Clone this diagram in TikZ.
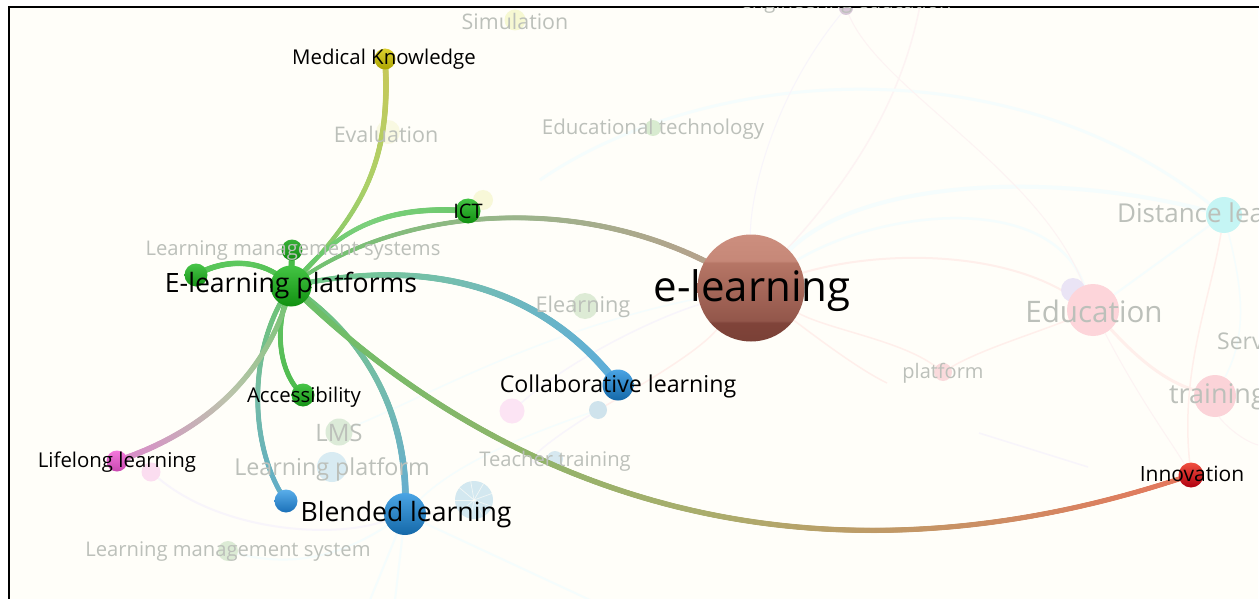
\documentclass[tikz,border=0pt]{standalone}
\usepackage{fontspec}
\setmainfont{Open Sans}
\usetikzlibrary{decorations.markings}
\pgfdeclarelayer{faintedge}
\pgfdeclarelayer{faintnode}
\pgfdeclarelayer{strongedge}
\pgfsetlayers{faintedge,faintnode,strongedge,main}
\definecolor{paper}{HTML}{FFFEF9}
\definecolor{fainttxt}{HTML}{BCC0BA}
\definecolor{bA}{HTML}{7A4036}
\definecolor{bB}{HTML}{80443A}
\definecolor{bC}{HTML}{92564A}
\definecolor{bD}{HTML}{B67666}
\definecolor{bE}{HTML}{C68878}
\definecolor{bF}{HTML}{CC8E7E}
\pgfdeclareverticalshading{brownball}{100bp}{
 color(0bp)=(bA);
 color(25bp)=(bA);
 color(34bp)=(bB);
 color(34.5bp)=(bC);
 color(62bp)=(bD);
 color(62.5bp)=(bE);
 color(75bp)=(bF);
 color(100bp)=(bF)}
\tikzset{
 ball/.style n args={3}{circle,inner sep=0pt,minimum size=#1,draw=none,
   /utils/exec={\definecolor{ballT}{HTML}{#2}\definecolor{ballB}{HTML}{#3}},
   top color=ballT,bottom color=ballB},
 pale/.style n args={2}{circle,inner sep=0pt,minimum size=#1,draw=none,
   /utils/exec={\definecolor{paleC}{HTML}{#2}},fill=paleC},
 lab/.style={font=\fontsize{20.4}{20.4}\selectfont,text=black,inner sep=0pt},
 labbig/.style={font=\fontsize{26.6}{26.6}\selectfont,text=black,inner sep=0pt},
 faintlab/.style={font=\fontsize{20.2}{20.2}\selectfont,text=fainttxt,inner sep=0pt},
 grad/.style n args={5}{
  decoration={markings,mark=between positions 0 and 1 step 1pt with {
   \definecolor{gcA}{HTML}{#1}\definecolor{gcM}{HTML}{#2}\definecolor{gcB}{HTML}{#3}%
   \pgfmathsetmacro\gpos{\pgfkeysvalueof{/pgf/decoration/mark info/distance from start}/\pgfdecoratedpathlength*100}%
   \pgfmathsetmacro\gwid{(#4+(#5-#4)*\gpos/100)/2}%
   \ifdim\gpos pt<50pt
     \pgfmathsetmacro\gmix{\gpos*2}%
     \fill[color=gcM!\gmix!gcA] (0,0) circle[radius=\gwid pt];
   \else
     \pgfmathsetmacro\gmix{(\gpos-50)*2}%
     \fill[color=gcB!\gmix!gcM] (0,0) circle[radius=\gwid pt];
   \fi
  }},
  postaction={decorate}},
}
\definecolor{fp}{HTML}{FDF3F3}
\definecolor{fr}{HTML}{FFEFEB}
\definecolor{fc}{HTML}{F5FDFD}
\definecolor{fl}{HTML}{F8F5FB}
\begin{document}
\begin{tikzpicture}[x=1pt,y=-1pt]
\useasboundingbox (0,0) rectangle (1259,599);
\begin{pgfonlayer}{faintedge}
\fill[white] (0,0) rectangle (1259,599);
\fill[paper] (9,8) rectangle (1258,599);
\end{pgfonlayer}
\draw[black,line width=2] (8.5,599) -- (8.5,7) -- (1259,7);

% --- strong nodes
\node[circle,inner sep=0pt,minimum size=107,draw=none,shading=brownball] (el) at (751,288) {};
\node[ball={41}{44C444}{109010}] (ep) at (291,286) {};
\node[ball={21}{DCD030}{ACA400}] (mk) at (385,59) {};
\node[ball={25}{44C444}{109010}] (ict) at (468,211) {};
\node[ball={21}{38B038}{108C10}] (lms) at (292,250) {};
\node[ball={23}{48C448}{169416}] (lft) at (196,275) {};
\node[ball={23}{48C448}{169416}] (acc) at (303,395) {};
\node[ball={21}{F478DC}{C848B0}] (ll) at (117,461) {};
\node[ball={23}{5AAEEA}{1A70B8}] (ub) at (286,501) {};
\node[ball={42}{4AA4E4}{1468A8}] (bl) at (405,514) {};
\node[ball={31}{4AA4E4}{1468A8}] (cl) at (618,385) {};
\node[ball={25}{F05040}{B00010}] (in) at (1191,475) {};

% --- pale nodes
\begin{pgfonlayer}{faintnode}
\begin{scope}
\clip (9,8) rectangle (1258,599);
\node[pale={21}{F6F8D2}] (nsim) at (515,20) {};
\node[pale={24}{F9F9E2}] (neva) at (388,132) {};
\node[pale={20}{F8F8D8}] (nict) at (483,200) {};
\node[pale={16}{D8EBD0}] (nedt) at (653,128) {};
\node[pale={26}{DDEBD5}] (nelr) at (585,306) {};
\node[pale={27}{DCEBD8}] (nlms) at (339,432) {};
\node[pale={30}{D8EBF2}] (nlpf) at (332,467) {};
\node[pale={16}{D6E8F0}] (ntea) at (555,459) {};
\node[pale={20}{DCEBD5}] (nlmt) at (228,551) {};
\node[pale={24}{EAE4F5}] (npur) at (1073,290) {};
\node[pale={52}{FDD5DA}] (nedu) at (1093,310) {};
\node[pale={18}{FADADC}] (nplt) at (943,372) {};
\node[pale={42}{FBD3D8}] (ntrn) at (1215,396) {};
\node[pale={36}{C5F5F4}] (ndis) at (1224,215) {};
\node[pale={14}{D8C8D8}] (neng) at (846,8) {};
\node[pale={25}{FCE4F4}] (npk) at (512,411) {};
\node[pale={18}{CFE3EC}] (nbl2) at (598,410) {};
\node[pale={19}{FBDDF0}] (npk2) at (151,472) {};
\node[pale={38}{D3E8F0}] (nwh) at (474,500) {};
\foreach \a in {20,60,...,340}
  \draw[paper,line width=.7,opacity=.7] (nwh.center) -- ++(\a:19);
\end{scope}
\end{pgfonlayer}

% --- faint edges
\coordinate (t1) at (921,0);
\coordinate (t2) at (540,180);
\coordinate (t3) at (370,600);
\coordinate (t4) at (395,600);
\coordinate (t5) at (590,600);
\coordinate (t6) at (887,383);
\coordinate (t7) at (1088,467);
\coordinate (t8) at (979,433);
\coordinate (t9) at (1258,445);
\begin{pgfonlayer}{faintedge}
\begin{scope}
\clip (9,8) rectangle (1258,599);
\draw[fp,line width=1.5] (t1) .. controls (905,90) and (860,170) .. (el);
\draw[fc,line width=3] (t2) .. controls (700,70) and (1000,40) .. (ndis);
\draw[fc,line width=4] (el) .. controls (860,180) and (1050,170) .. (ndis);
\draw[fc,line width=2.5] (el) .. controls (880,210) and (1050,190) .. (nedu);
\draw[fr,line width=2] (el) .. controls (880,250) and (1000,250) .. (nedu);
\draw[fr,line width=3] (nedu) .. controls (1130,350) and (1160,380) .. (ntrn);
\draw[fr,line width=1.5] (el) .. controls (830,330) and (900,340) .. (nplt);
\draw[fr,line width=1.5] (nplt) .. controls (980,350) and (1030,335) .. (nedu);
\draw[fr,line width=1.5] (el) .. controls (820,340) and (860,370) .. (t6);
\draw[fl,line width=1.5] (t8) -- (t7);
\draw[fp,line width=1] (ntrn) .. controls (1220,420) and (1240,440) .. (t9);
\draw[fp,line width=1] (nedu) .. controls (1140,400) and (1170,440) .. (in);
\draw[fp,line width=1] (neng) .. controls (880,90) and (1040,170) .. (nedu);
\draw[fl,line width=1] (neng) .. controls (770,100) and (750,200) .. (el);
\draw[fc,line width=2] (bl) -- (t3);
\draw[fc,line width=2] (bl) -- (t4);
\draw[fc,line width=2] (bl) -- (t5);
\draw[fl,line width=2] (npk2) .. controls (220,530) and (330,540) .. (bl);
\draw[fc,line width=2] (nlmt) .. controls (300,570) and (350,550) .. (bl);
\draw[fl,line width=1.5] (nbl2) .. controls (550,440) and (510,470) .. (ntea);
\draw[fr,line width=1.5] (nbl2) .. controls (650,380) and (700,350) .. (el);
\draw[fc,line width=1.5] (bl) .. controls (460,460) and (540,430) .. (nbl2);
\draw[fc,line width=1.5] (nlms) .. controls (420,400) and (540,330) .. (el);
\draw[fl,line width=1.5] (npk) .. controls (570,360) and (650,320) .. (el);
\draw[fc,line width=2] (ndis) -- (nedu);
\draw[fr,line width=1.5] (ndis) .. controls (1210,300) and (1180,370) .. (in);
\draw[fc,line width=1.5] (ndis) .. controls (1240,280) and (1250,330) .. (ntrn);
\end{scope}
\end{pgfonlayer}

% --- strong edges
\begin{pgfonlayer}{strongedge}
\path[grad={6CC46C}{ACD068}{C8C858}{4}{6}] (ep.center) .. controls (360,215) and (392,165) .. (mk.center);
\path[grad={60C460}{7CD07C}{6CC86C}{4}{6}] (ep.center) .. controls (340,225) and (390,205) .. (ict.center);
\path[grad={6CC46C}{9CB48C}{BC9C8C}{4}{6}] (ep.center) .. controls (395,205) and (600,185) .. (el.center);
\path[grad={48BC48}{60C860}{54C454}{5}{6}] (ep.center) .. controls (265,258) and (225,258) .. (lft.center);
\path[grad={48BC48}{48BC48}{48BC48}{6}{6}] (ep.center) -- (lms.center);
\path[grad={64C464}{5CC05C}{4CBC4C}{5}{5}] (ep.center) .. controls (272,330) and (280,375) .. (acc.center);
\path[grad={6CC46C}{74BCA4}{60ACCC}{5}{5}] (ep.center) .. controls (245,350) and (250,450) .. (ub.center);
\path[grad={6CC46C}{BCC4AC}{DC88CC}{5}{6}] (ep.center) .. controls (270,370) and (210,430) .. (ll.center);
\path[grad={6CC46C}{74BCAC}{64ACD4}{5}{7}] (ep.center) .. controls (370,340) and (410,420) .. (bl.center);
\path[grad={74CC84}{74BCB4}{5CACDC}{5}{8}] (ep.center) .. controls (400,262) and (530,270) .. (cl.center);
\path[grad={68C068}{ACAC6C}{E8745C}{6}{5}] (ep.center) .. controls (520,510) and (830,597) .. (in.center);
\end{pgfonlayer}

% --- labels
\begin{scope}
\clip (9,8) rectangle (1258,599);
\node[faintlab,font=\fontsize{21.4}{21.4}\selectfont] (lsim) at (515,21) {Simulation};
\node[faintlab] (leng) at (846,3) {engineering education};
\node[faintlab,font=\fontsize{21.5}{21.5}\selectfont] (leva) at (386,134) {Evaluation};
\node[faintlab,font=\fontsize{20.5}{20.5}\selectfont] (ledt) at (653,129) {Educational technology};
\node[faintlab] (llms) at (293,251) {Learning management systems};
\node[faintlab,font=\fontsize{21.7}{21.7}\selectfont] (lelr) at (583,307) {Elearning};
\node[faintlab,font=\fontsize{29.6}{29.6}\selectfont] (ledu) at (1094,311) {Education};
\node[faintlab,font=\fontsize{26}{26}\selectfont,anchor=west] (ldis) at (1117,216) {Distance learning};
\node[faintlab,font=\fontsize{20}{20}\selectfont] (lplt) at (943,373) {platform};
\node[faintlab,font=\fontsize{27}{27}\selectfont,anchor=west] (ltrn) at (1169,397) {training};
\node[faintlab,font=\fontsize{23}{23}\selectfont,anchor=west] (lser) at (1217,341) {Services};
\node[faintlab,font=\fontsize{24}{24}\selectfont] (llm2) at (339,433) {LMS};
\node[faintlab,font=\fontsize{23.3}{23.3}\selectfont] (llpf) at (332,469) {Learning platform};
\node[faintlab] (ltea) at (555,461) {Teacher training};
\node[faintlab] (llmt) at (228,552) {Learning management system};
\end{scope}
\node[lab] (tmk) at (384,59) {Medical Knowledge};
\node[lab,font=\fontsize{20}{20}\selectfont] (tict) at (468,211) {ICT};
\node[labbig] (tep) at (291,286) {E-learning platforms};
\node[lab] (tacc) at (304,397) {Accessibility};
\node[lab] (tll) at (117,462) {Lifelong learning};
\node[labbig] (tbl) at (406,515) {Blended learning};
\node[font=\fontsize{23.2}{23.2}\selectfont,text=black,inner sep=0pt] (tcl) at (618,386) {Collaborative learning};
\node[lab,font=\fontsize{21}{21}\selectfont] (tin) at (1192,474) {Innovation};
\node[font=\fontsize{42}{42}\selectfont,text=black,inner sep=0pt] (tel) at (752,291) {e-learning};
\end{tikzpicture}
\end{document}
